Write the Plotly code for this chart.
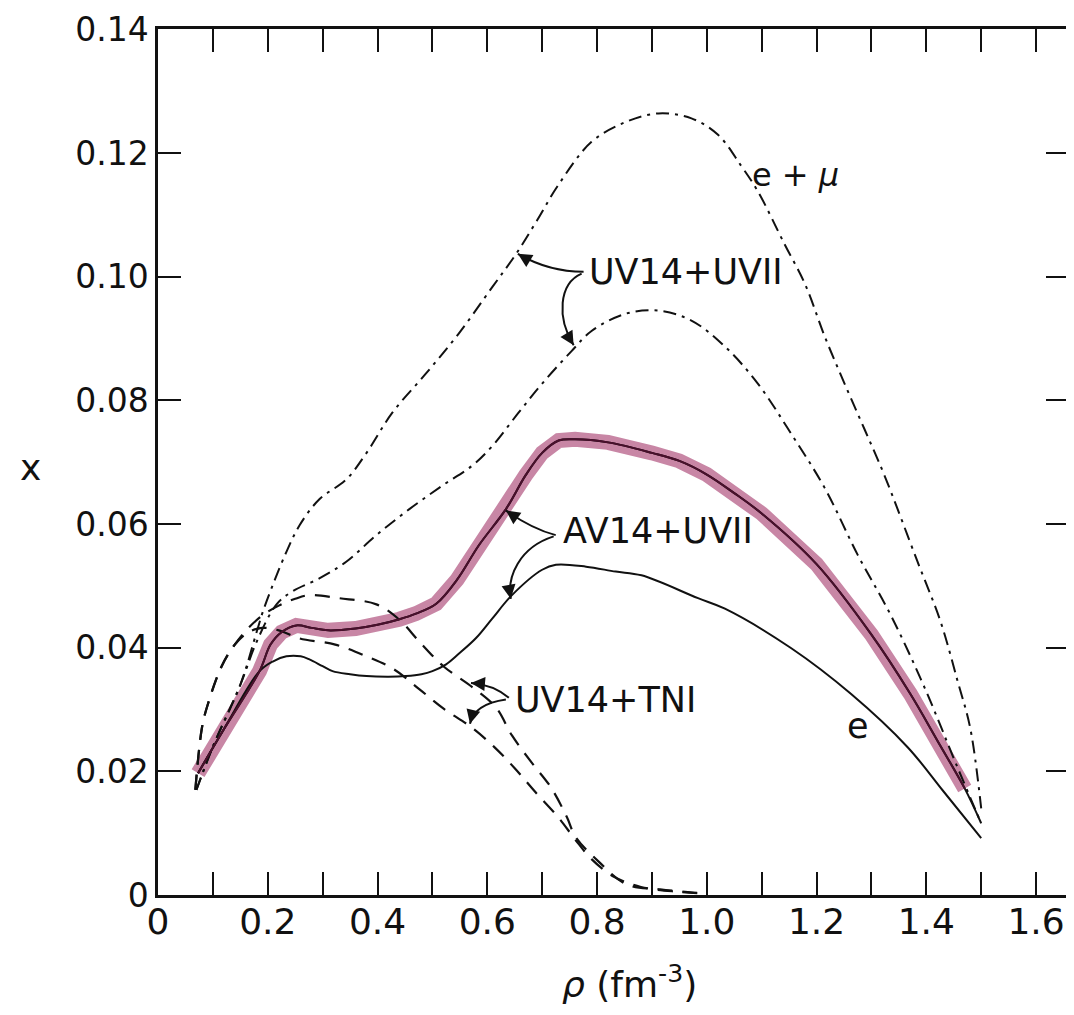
import plotly.graph_objects as go

# ---------------- data ----------------
# AV14+UVII, e + mu (solid, highlighted)
av_emu_x = [0.073, 0.12, 0.185, 0.205, 0.225, 0.252, 0.28, 0.31, 0.36, 0.40, 0.44, 0.47, 0.507,
            0.545, 0.585, 0.634, 0.67, 0.70, 0.73, 0.76, 0.82, 0.90, 0.95, 1.0, 1.05, 1.1, 1.2,
            1.30, 1.371, 1.42, 1.469, 1.50]
av_emu_y = [0.0197, 0.0268, 0.0362, 0.0405, 0.0425, 0.0436, 0.0432, 0.0428, 0.0431, 0.0437, 0.0446,
            0.0455, 0.0471, 0.051, 0.0566, 0.0624, 0.0679, 0.0715, 0.0735, 0.0737, 0.0732, 0.0715,
            0.0702, 0.0680, 0.0650, 0.0617, 0.0535, 0.0421, 0.0325, 0.0250, 0.0174, 0.0116]

# AV14+UVII, e only (solid)
av_e_x = [0.073, 0.12, 0.185, 0.21, 0.234, 0.26, 0.276, 0.30, 0.318, 0.35, 0.38, 0.42, 0.452, 0.48,
          0.50, 0.525, 0.548, 0.58, 0.609, 0.645, 0.70, 0.725, 0.78, 0.834, 0.881, 0.984, 1.033,
          1.154, 1.263, 1.366, 1.43, 1.50]
av_e_y = [0.0197, 0.0268, 0.0362, 0.0378, 0.0386, 0.0386, 0.0381, 0.0370, 0.0362, 0.0357, 0.0354,
          0.0353, 0.0354, 0.0357, 0.0362, 0.0373, 0.0390, 0.0416, 0.0447, 0.0485, 0.0526, 0.0534,
          0.0531, 0.0523, 0.0517, 0.0480, 0.0463, 0.0399, 0.0325, 0.0239, 0.0169, 0.0092]

# UV14+UVII, e + mu (dash-dot)
uu_emu_x = [0.07, 0.10, 0.15, 0.18, 0.191, 0.209, 0.234, 0.258, 0.294, 0.343, 0.38, 0.427, 0.488,
            0.548, 0.609, 0.652, 0.69, 0.73, 0.79, 0.852, 0.912, 0.972, 1.021, 1.062, 1.093, 1.142,
            1.179, 1.215, 1.251, 1.288, 1.324, 1.384, 1.426, 1.457, 1.48, 1.50]
uu_emu_y = [0.017, 0.024, 0.034, 0.0426, 0.0458, 0.0501, 0.0555, 0.0598, 0.064, 0.0672, 0.0715,
            0.078, 0.0843, 0.0908, 0.0983, 0.1036, 0.109, 0.1149, 0.1218, 0.125, 0.1264, 0.1256,
            0.1229, 0.118, 0.1138, 0.1052, 0.0988, 0.0903, 0.0827, 0.0752, 0.0678, 0.0539,
            0.0442, 0.0346, 0.027, 0.014]

# UV14+UVII, e only (dash-dot)
uu_e_x = [0.07, 0.10, 0.15, 0.18, 0.216, 0.245, 0.294, 0.343, 0.398, 0.458, 0.518, 0.572, 0.609,
          0.657, 0.70, 0.754, 0.79, 0.852, 0.912, 0.972, 1.033, 1.093, 1.153, 1.215, 1.275, 1.335,
          1.397, 1.457, 1.50]
uu_e_y = [0.017, 0.024, 0.034, 0.041, 0.047, 0.0491, 0.0512, 0.0539, 0.0582, 0.0624, 0.0662,
          0.0694, 0.0726, 0.078, 0.0827, 0.088, 0.0912, 0.094, 0.0945, 0.0929, 0.0887, 0.0827,
          0.0747, 0.0658, 0.055, 0.0453, 0.0335, 0.0206, 0.0116]

# UV14+TNI, e + mu (dashed)
ut_emu_x = [0.068, 0.08, 0.09, 0.116, 0.14, 0.165, 0.19, 0.22, 0.25, 0.276, 0.33, 0.398, 0.44,
            0.476, 0.52, 0.57, 0.616, 0.645, 0.681, 0.716, 0.745, 0.761, 0.803, 0.854, 0.915,
            0.975, 1.0]
ut_emu_y = [0.017, 0.027, 0.0306, 0.037, 0.0405, 0.0432, 0.0452, 0.0468, 0.0479, 0.0485, 0.048,
            0.047, 0.0445, 0.041, 0.037, 0.0338, 0.0303, 0.0258, 0.0214, 0.0174, 0.0126, 0.0094,
            0.0054, 0.0017, 0.0009, 0.0004, 0.0002]

# UV14+TNI, e only (dashed)
ut_e_x = [0.068, 0.08, 0.09, 0.116, 0.14, 0.165, 0.19, 0.22, 0.258, 0.323, 0.38, 0.43, 0.476,
          0.521, 0.57, 0.612, 0.65, 0.688, 0.73, 0.76, 0.79, 0.83, 0.88, 0.95, 1.0]
ut_e_y = [0.017, 0.027, 0.0306, 0.037, 0.0405, 0.0425, 0.0432, 0.0428, 0.0415, 0.0405, 0.0386,
          0.0365, 0.0333, 0.0301, 0.0272, 0.024, 0.0205, 0.0166, 0.0125, 0.009, 0.0058, 0.003,
          0.0013, 0.0005, 0.0002]

x_tick_vals = [0.0, 0.1, 0.2, 0.3, 0.4, 0.5, 0.6, 0.7, 0.8, 0.9, 1.0, 1.1, 1.2, 1.3, 1.4, 1.5, 1.6]
x_tick_text = ["0", "", "0.2", "", "0.4", "", "0.6", "", "0.8", "", "1.0", "", "1.2", "", "1.4", "", "1.6"]
y_tick_vals = [0.0, 0.02, 0.04, 0.06, 0.08, 0.10, 0.12, 0.14]
y_tick_text = ["0", "0.02", "0.04", "0.06", "0.08", "0.10", "0.12", "0.14"]

highlight_end = 1.47

# ---------------- figure ----------------
FONT = "DejaVu Sans"
fig = go.Figure()

# pink highlight under the AV14+UVII e+mu curve
hx = [x for x in av_emu_x if x <= highlight_end] + [highlight_end]
hy = [y for x, y in zip(av_emu_x, av_emu_y) if x <= highlight_end]
i = len(hy)
x0, x1 = av_emu_x[i - 1], av_emu_x[i]
y0, y1 = av_emu_y[i - 1], av_emu_y[i]
hy.append(y0 + (y1 - y0) * (highlight_end - x0) / (x1 - x0))
fig.add_trace(go.Scatter(x=hx, y=hy, mode="lines",
                         line=dict(color="rgb(200,134,165)", width=15),
                         hoverinfo="skip", showlegend=False))

black = "#111111"
dashdot = "13px,6px,3px,6px"
dashed = "15px,10px"

fig.add_trace(go.Scatter(x=uu_emu_x, y=uu_emu_y, mode="lines", line_shape="spline",
                         line=dict(color=black, width=2, dash=dashdot), showlegend=False))
fig.add_trace(go.Scatter(x=uu_e_x, y=uu_e_y, mode="lines", line_shape="spline",
                         line=dict(color=black, width=2, dash=dashdot), showlegend=False))
fig.add_trace(go.Scatter(x=ut_emu_x, y=ut_emu_y, mode="lines", line_shape="spline",
                         line=dict(color=black, width=2.2, dash=dashed), showlegend=False))
fig.add_trace(go.Scatter(x=ut_e_x, y=ut_e_y, mode="lines", line_shape="spline",
                         line=dict(color=black, width=2.2, dash=dashed), showlegend=False))
fig.add_trace(go.Scatter(x=av_e_x, y=av_e_y, mode="lines", line_shape="spline",
                         line=dict(color=black, width=2), showlegend=False))
fig.add_trace(go.Scatter(x=av_emu_x, y=av_emu_y, mode="lines", line_shape="spline",
                         line=dict(color=black, width=2), showlegend=False))
fig.add_trace(go.Scatter(x=hx, y=hy, mode="lines", line_shape="spline",
                         line=dict(color="#4a0f2c", width=2), showlegend=False))

# curved leader arrows (data coordinates)
arrow_paths = [
    "M 0.7755,0.1008 Q 0.712,0.1008 0.6557,0.1037",
    "M 0.7719,0.1005 C 0.7301,0.0989 0.7265,0.0933 0.7574,0.0889",
    "M 0.7247,0.0582 Q 0.6811,0.0592 0.6339,0.0622",
    "M 0.7210,0.0580 C 0.6575,0.0562 0.6357,0.0514 0.6429,0.0479",
    "M 0.6393,0.0319 Q 0.6121,0.0340 0.5703,0.0343",
    "M 0.6339,0.0316 C 0.5939,0.0311 0.5739,0.0298 0.5685,0.0277",
]
shapes = [dict(type="path", path=p, xref="x", yref="y", line=dict(color=black, width=2))
          for p in arrow_paths]
heads = [
    (0.6557, 0.1037, 10, 6),
    (0.7574, 0.0889, -6, -10),
    (0.6339, 0.0622, 10, 7),
    (0.6429, 0.0479, -2, -12),
    (0.5703, 0.0343, 12, 1),
    (0.5685, 0.0277, 3, -12),
]
annotations = []
for hx_, hy_, ax_, ay_ in heads:
    annotations.append(dict(x=hx_, y=hy_, xref="x", yref="y", ax=ax_, ay=ay_, text="",
                            showarrow=True, arrowhead=2, arrowsize=1.4, arrowwidth=2,
                            arrowcolor=black))

lab_font = dict(family=FONT, size=35, color=black)
annotations += [
    dict(x=0.9626, y=0.1008, xref="x", yref="y", text="UV14+UVII", showarrow=False, font=lab_font),
    dict(x=0.9117, y=0.0588, xref="x", yref="y", text="AV14+UVII", showarrow=False, font=lab_font),
    dict(x=0.8155, y=0.0315, xref="x", yref="y", text="UV14+TNI", showarrow=False, font=lab_font),
    dict(x=1.162, y=0.1165, xref="x", yref="y", text="e + <i>μ</i>", showarrow=False,
         font=dict(family=FONT, size=32, color=black)),
    dict(x=1.275, y=0.0274, xref="x", yref="y", text="e", showarrow=False, font=lab_font),
    # axis titles
    dict(x=-0.140, y=0.494, xref="paper", yref="paper", xanchor="center", yanchor="middle",
         text="x", showarrow=False, font=dict(family=FONT, size=36, color=black)),
    dict(x=0.5175, y=-0.101, xref="paper", yref="paper", xanchor="center", yanchor="middle",
         text="<i>ρ</i> (fm<sup>-3</sup>)", showarrow=False,
         font=dict(family=FONT, size=36, color=black)),
]

axis_common = dict(showgrid=False, zeroline=False, showline=True, linecolor=black, linewidth=2.5,
                   mirror="ticks", ticks="inside", ticklen=23, tickwidth=2.2, tickcolor=black)

fig.update_layout(
    width=1066, height=1007,
    margin=dict(l=150, r=2, t=17, b=120),
    paper_bgcolor="white", plot_bgcolor="white",
    xaxis=dict(range=[0, 1.66], tickmode="array", tickvals=x_tick_vals, ticktext=x_tick_text,
               tickfont=dict(family=FONT, size=36, color=black), ticklabelstandoff=-7,
               **axis_common),
    yaxis=dict(range=[0, 0.14005], tickmode="array", tickvals=y_tick_vals, ticktext=y_tick_text,
               tickfont=dict(family=FONT, size=33, color=black), ticklabeloverflow="allow",
               **axis_common),
    shapes=shapes,
    annotations=annotations,
)

fig.write_html("out.html")
